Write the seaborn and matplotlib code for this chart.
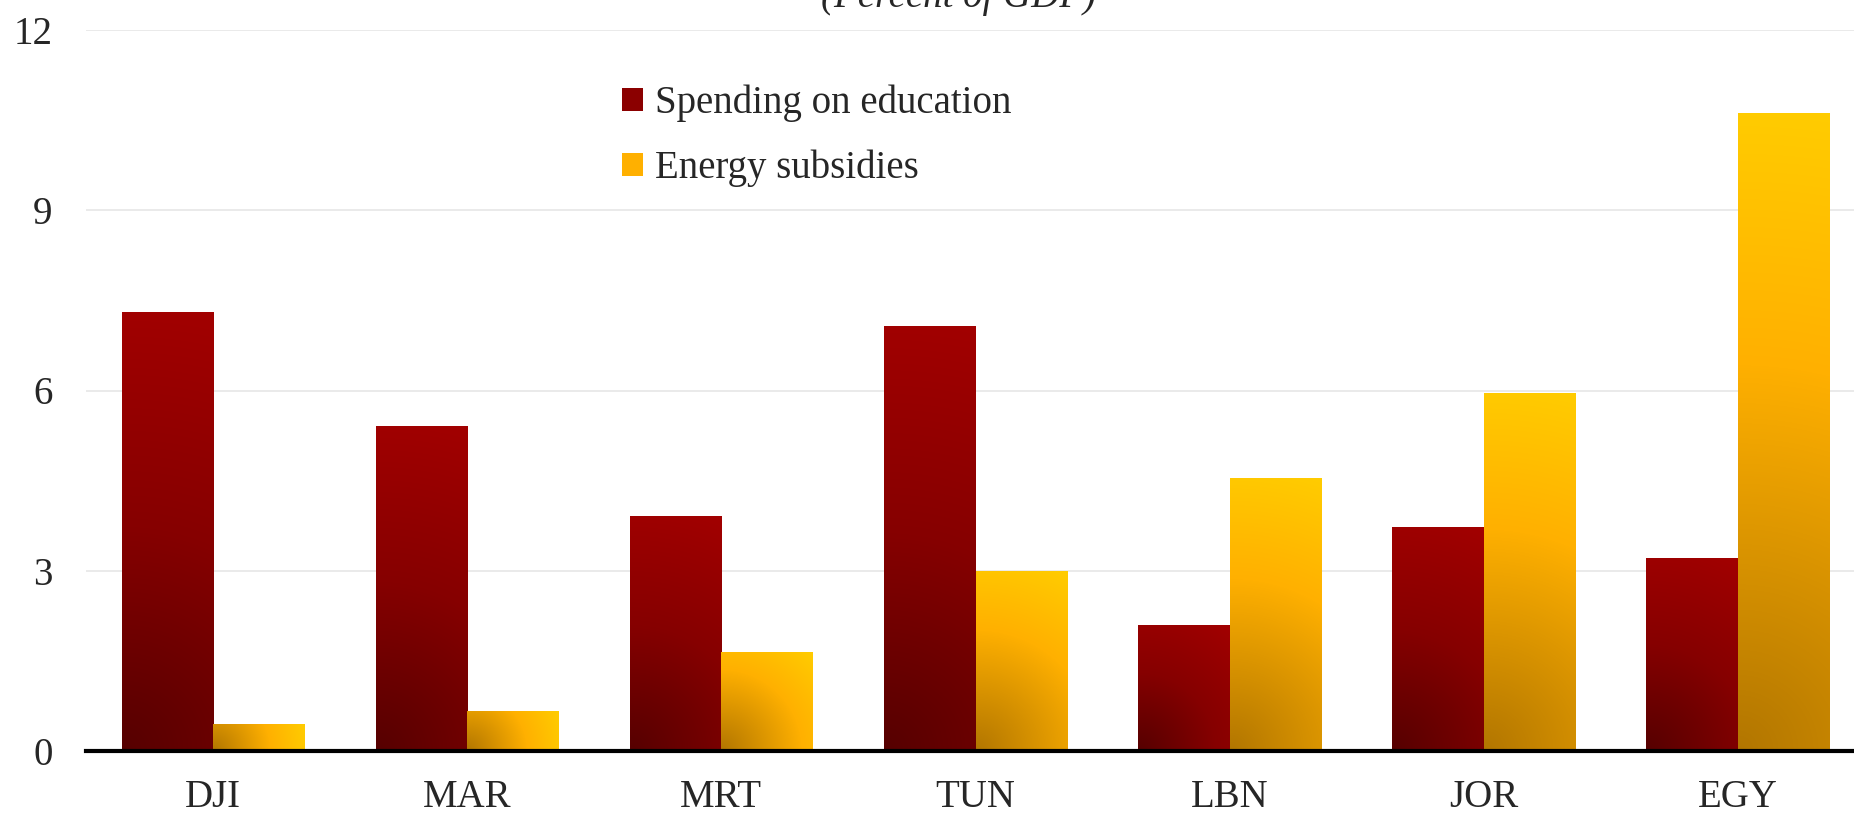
import numpy as np
import pandas as pd
import matplotlib
matplotlib.use("Agg")
import matplotlib.pyplot as plt
from matplotlib.colors import LinearSegmentedColormap
from matplotlib.patches import Patch
import seaborn as sns

# ---- data ----
countries = ["DJI", "MAR", "MRT", "TUN", "LBN", "JOR", "EGY"]
education = [7.30, 5.41, 3.91, 7.08, 2.10, 3.72, 3.21]
energy = [0.45, 0.67, 1.65, 2.99, 4.54, 5.96, 10.62]
series_names = ["Spending on education", "Energy subsidies"]
yticks = [0, 3, 6, 9, 12]
title_text = "(Percent of GDP)"

df = pd.DataFrame({
    "country": countries * 2,
    "value": education + energy,
    "series": [series_names[0]] * len(countries) + [series_names[1]] * len(countries),
})

sns.set_theme(style="white")
plt.rcParams["font.family"] = ["Liberation Serif", "DejaVu Serif"]

W, H, DPI = 1854, 817, 100
fig = plt.figure(figsize=(W / DPI, H / DPI), dpi=DPI)
ax = fig.add_axes([86 / W, 1 - 751 / H, (1865 - 86) / W, (751 - 30) / H])

solid = {series_names[0]: "#8B0000", series_names[1]: "#FFB000"}
sns.barplot(data=df, x="country", y="value", hue="series", palette=solid,
            width=0.72, saturation=1, ax=ax, legend=False, order=countries,
            hue_order=series_names, linewidth=0)

ax.set_xlim(-0.5, len(countries) - 0.5)
ax.set_ylim(0, 12)
ax.set_yticks(yticks)
ax.set_yticklabels([str(t) for t in yticks])
ax.set_xlabel("")
ax.set_ylabel("")

# grid
for t in yticks[1:]:
    ax.axhline(t, color="#E6E6E6", lw=1.2, zorder=0)

for s in ["left", "right", "top"]:
    ax.spines[s].set_visible(False)
ax.spines["bottom"].set_linewidth(3)
ax.spines["bottom"].set_color("black")
ax.spines["bottom"].set_zorder(10)

ax.tick_params(axis="y", length=0, labelsize=28, pad=24)
ax.tick_params(axis="x", which="major", length=0, labelsize=28, pad=20)
ax.set_xticks(np.arange(-0.5, len(countries) + 0.5, 1.0), minor=True)
ax.tick_params(axis="x", which="minor", direction="in", length=9, width=1.2,
               color="black")

# gradient fills (radial from bottom-left of each bar)
cmaps = {
    0: LinearSegmentedColormap.from_list(
        "edu", [(0, "#560000"), (0.5, "#860000"), (1, "#A20000")]),
    1: LinearSegmentedColormap.from_list(
        "ene", [(0, "#B27600"), (0.6, "#FFB000"), (1, "#FFCC00")]),
}
fig.canvas.draw()
for ci, cont in enumerate(ax.containers):
    for bar in cont:
        x0, y0 = bar.get_x(), bar.get_y()
        bw, bh = bar.get_width(), bar.get_height()
        p0 = ax.transData.transform((x0, y0))
        p1 = ax.transData.transform((x0 + bw, y0 + bh))
        pw, ph = max(abs(p1[0] - p0[0]), 1), max(abs(p1[1] - p0[1]), 1)
        nx, ny = int(pw) + 1, int(ph) + 1
        xx, yy = np.meshgrid(np.linspace(0, pw, nx), np.linspace(0, ph, ny))
        t = np.sqrt(xx ** 2 + yy ** 2) / np.sqrt(pw ** 2 + ph ** 2)
        img = ax.imshow(t, cmap=cmaps[ci], vmin=0, vmax=1, origin="lower",
                        extent=[x0, x0 + bw, y0, y0 + bh], aspect="auto",
                        interpolation="bilinear", zorder=3)
        img.set_clip_path(bar)
ax.set_xlim(-0.5, len(countries) - 0.5)
ax.set_ylim(0, 12)

handles = [Patch(facecolor=solid[s], edgecolor="none") for s in series_names]
fig.legend(handles, series_names, loc="upper left",
           bbox_to_anchor=(622 / W, 1 - 85 / H), frameon=False, fontsize=28,
           handlelength=0.55, handleheight=0.55, handletextpad=0.3,
           labelspacing=0.7, borderpad=0, borderaxespad=0)

fig.text(959 / W, 1 - 7 / H, title_text, ha="center", va="baseline",
         fontsize=28, style="italic")

fig.savefig("out.png", dpi=DPI)
